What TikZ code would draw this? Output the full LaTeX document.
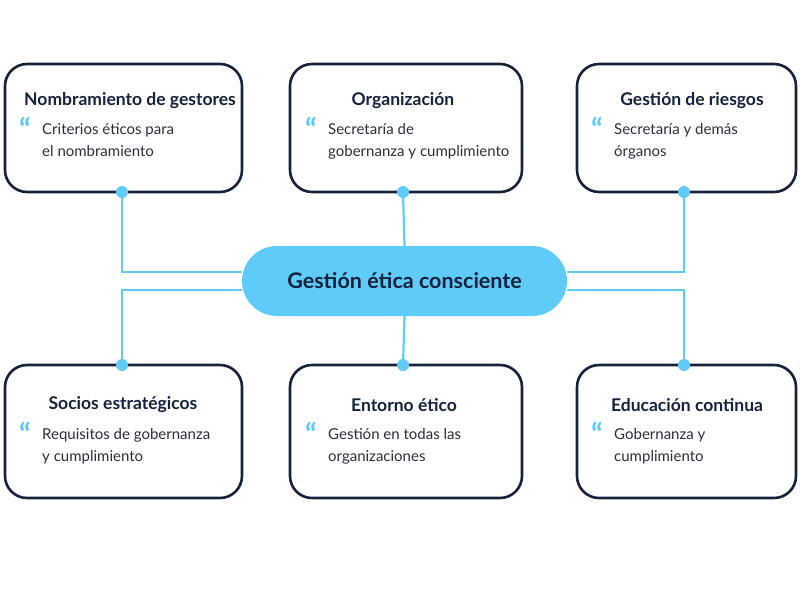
\documentclass[tikz,border=0pt]{standalone}
\usepackage{fontspec}
\setmainfont{Lato}
\usetikzlibrary{positioning,backgrounds}
\definecolor{navy}{HTML}{14223E}
\definecolor{sky}{HTML}{5ECBF8}
\definecolor{txt}{HTML}{2A2F3A}

\begin{document}
\begin{tikzpicture}[
    x=1pt, y=-1pt,
    card/.style={rectangle, rounded corners=22pt, draw=navy, line width=2.6pt, fill=white, inner sep=0pt},
    head/.style={font=\fontsize{17.5}{20}\selectfont\bfseries, text=navy},
    body/.style={font=\fontsize{15}{22}\selectfont, text=txt, align=left, anchor=north west, inner sep=0pt},
    quote/.style={font=\fontsize{30}{30}\selectfont\bfseries, text=sky, anchor=north west, inner sep=0pt},
    link/.style={draw=sky, line width=2.2pt},
    dot/.style={circle, fill=sky, inner sep=0pt, minimum size=12pt}
]
\useasboundingbox (0,0) rectangle (800,600);

% Central idea
\node[rectangle, rounded corners=35pt, fill=sky, minimum width=325pt, minimum height=70pt,
      font=\fontsize{21.5}{24}\selectfont\bfseries, text=navy] (core) at (404.5,281) {Gestión ética consciente};

% Cards, top row
\node[card, minimum width=237pt, minimum height=128pt] (gest) at (123.5,128) {};
\node[card, minimum width=232pt, minimum height=128pt] (org) at (406,128) {};
\node[card, minimum width=219pt, minimum height=128pt] (risk) at (686.5,128) {};
% Cards, bottom row
\node[card, minimum width=237pt, minimum height=133pt] (socio) at (123.5,431.5) {};
\node[card, minimum width=232pt, minimum height=133pt] (ent) at (406,431.5) {};
\node[card, minimum width=219pt, minimum height=133pt] (edu) at (686.5,431.5) {};

% Titles
\node[head] at (130,101) {Nombramiento de gestores};
\node[head] at (403,101) {Organización};
\node[head] at (692,101) {Gestión de riesgos};
\node[head] at (123,405) {Socios estratégicos};
\node[head] at (404,405) {Entorno ético};
\node[head] at (687,405) {Educación continua};

% Quotes and texts
\node[quote] at (19,117) {``};
\node[body] at (42,123) {Criterios éticos para\\el nombramiento};
\node[quote] at (305,117) {``};
\node[body] at (328,123) {Secretaría de\\gobernanza y cumplimiento};
\node[quote] at (591,117) {``};
\node[body] at (614,123) {Secretaría y demás\\órganos};
\node[quote] at (19,422) {``};
\node[body] at (42,428) {Requisitos de gobernanza\\y cumplimiento};
\node[quote] at (305,422) {``};
\node[body] at (328,428) {Gestión en todas las\\organizaciones};
\node[quote] at (591,422) {``};
\node[body] at (614,428) {Gobernanza y\\cumplimiento};

% Connectors
\coordinate (gd) at (122,192);
\coordinate (od) at (403,192);
\coordinate (rd) at (684,192);
\coordinate (sd) at (122,365);
\coordinate (ed) at (403,365);
\coordinate (ud) at (684,365);
\begin{scope}[on background layer]
\draw[link] (gd) |- (core.west |- 0,272);
\draw[link] (od) -- (core.north);
\draw[link] (rd) |- (core.east |- 0,272);
\draw[link] (sd) |- (core.west |- 0,290);
\draw[link] (ed) -- (core.south);
\draw[link] (ud) |- (core.east |- 0,290);
\end{scope}
\foreach \p in {gd,od,rd,sd,ed,ud}
    \node[dot] at (\p) {};

\end{tikzpicture}
\end{document}
